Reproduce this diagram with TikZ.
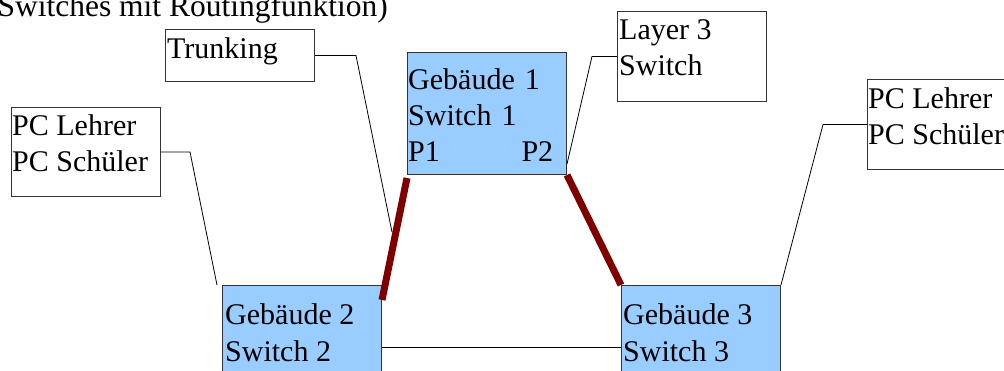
\documentclass[tikz,border=0pt]{standalone}
\usepackage{fontspec}
\setmainfont{Liberation Serif}
\usetikzlibrary{positioning}
\definecolor{switchblue}{HTML}{99CCFF}
\definecolor{trunkred}{HTML}{800000}
\tikzstyle{note} = [rectangle, draw=black!80, fill=white, line width=1pt, minimum width=149pt, anchor=north west, inner sep=0pt]
\tikzstyle{switch} = [rectangle, draw=black!80, fill=switchblue, line width=1pt, minimum width=159pt, minimum height=123pt, anchor=north west, inner sep=0pt]
% base west of a multi-line text is the baseline of its last line
% (with text width it is the first line)
\tikzstyle{txt} = [inner sep=0pt, align=left, anchor=base west, font=\fontsize{30}{36}\selectfont]
\tikzstyle{trunkline} = [draw=trunkred, line width=7pt]
\tikzstyle{leader} = [draw=black, line width=0.8pt]

\begin{document}
\begin{tikzpicture}[x=1pt, y=-1pt]
  \path[use as bounding box, clip] (0,0) rectangle (1004,371);

  % boxes
  \node (trunk) [note, minimum height=52pt] at (165,29) {};
  \node (pcl) [note, minimum height=89pt] at (11,107) {};
  \node (l3) [note, minimum height=90pt] at (617,11) {};
  \node (pcr) [note, minimum height=90pt] at (867,79) {};
  \node (sw1) [switch, minimum height=122pt] at (407,52) {};
  \node (sw2) [switch] at (222,285) {};
  \node (sw3) [switch] at (621,285) {};

  % texts
  \node (title) [txt, anchor=base east, font=\fontsize{31.5}{36}\selectfont] at (388,17) {Switches mit Routingfunktion)};
  \node (trunktxt) [txt] at (167,59) {Trunking};
  \node (pcltxt) [txt] at (12,172) {PC Lehrer\\PC Schüler};
  \node (l3txt) [txt] at (619,76) {Layer 3\\Switch};
  \node (pcrtxt) [txt] at (868,145) {PC Lehrer\\PC Schüler};
  \node (sw1txt) [txt, text width=145pt] at (408,90) {Gebäude 1\\Switch 1\\P1\hfill P2};
  \node (sw2txt) [txt] at (225,361) {Gebäude 2\\Switch 2};
  \node (sw3txt) [txt] at (623,361) {Gebäude 3\\Switch 3};

  % links between the switches
  \draw [trunkline] ([yshift=-3pt]sw1.south west) -- ([yshift=-15pt]sw2.north east);
  \draw [trunkline] (sw1.south east) -- (sw3.north west);
  \draw [leader] (sw2.east) -- (sw3.west);

  % callouts
  \coordinate (trunkend) at (392,232);
  \coordinate (pclend) at (217,285);
  \draw [leader] (trunk.east) -- ++(41,0) -- (trunkend);
  \draw [leader] (pcl.east) -- ++(29,0) -- (pclend);
  \draw [leader] (l3.west) -- ++(-25,0) -- ([yshift=11pt]sw1.south east);
  \draw [leader] (pcr.west) -- ++(-44,0) -- (sw3.north east);
\end{tikzpicture}
\end{document}
